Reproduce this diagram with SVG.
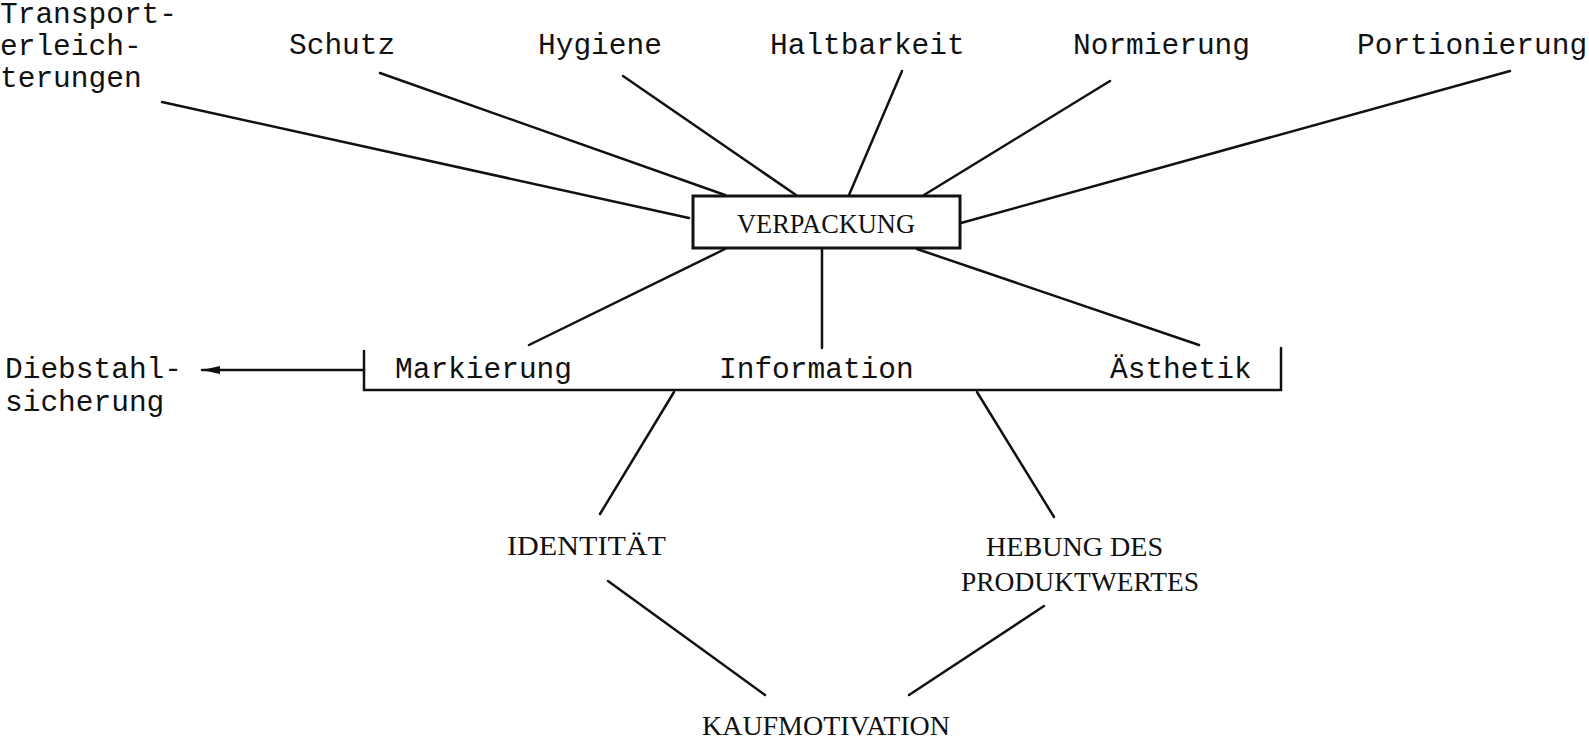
<svg xmlns="http://www.w3.org/2000/svg" width="1589" height="739" viewBox="0 0 1589 739">
<style>
.t{font-family:"Liberation Mono","DejaVu Sans Mono",monospace;font-size:29.5px;fill:#111}
.u{font-family:"Liberation Serif","DejaVu Serif",serif;font-size:28px;fill:#111}
.c line,.c path{stroke:#111;stroke-width:2.5;fill:none;stroke-linecap:round}
</style>
<defs>
<marker id="ah" viewBox="0 0 18 8" refX="18" refY="4" markerWidth="18" markerHeight="8" markerUnits="userSpaceOnUse" orient="auto">
<path d="M0,0 L18,4 L0,8 Z" style="fill:#111;stroke:none"/>
</marker>
</defs>
<rect width="1589" height="739" fill="#fff"/>
<g class="c" id="connectors">
<line x1="162" y1="102" x2="689" y2="218"/>
<line x1="380" y1="73" x2="725" y2="195"/>
<line x1="623" y1="76" x2="796" y2="195"/>
<line x1="902" y1="71" x2="849" y2="195"/>
<line x1="1110" y1="81" x2="924" y2="195"/>
<line x1="1510" y1="71" x2="961" y2="223"/>
<line x1="725" y1="249" x2="529" y2="345"/>
<line x1="822" y1="249" x2="822" y2="348"/>
<line x1="917" y1="249" x2="1199" y2="345"/>
<path d="M364,351 L364,390 L1281,390 L1281,348"/>
<line x1="364" y1="370" x2="202" y2="370" marker-end="url(#ah)"/>
<line x1="674" y1="392" x2="600" y2="514"/>
<line x1="977" y1="392" x2="1054" y2="517"/>
<line x1="608" y1="581" x2="765" y2="695"/>
<line x1="1044" y1="606" x2="909" y2="695"/>
</g>
<g id="transport"><text class="t" x="0" y="23">Transport-</text><text class="t" x="0" y="55">erleich-</text><text class="t" x="0" y="87">terungen</text></g>
<g id="schutz"><text class="t" x="289" y="54">Schutz</text></g>
<g id="hygiene"><text class="t" x="538" y="54">Hygiene</text></g>
<g id="haltbarkeit"><text class="t" x="770" y="54">Haltbarkeit</text></g>
<g id="normierung"><text class="t" x="1073" y="54">Normierung</text></g>
<g id="portionierung"><text class="t" x="1357" y="54">Portionierung</text></g>
<g id="verpackung"><rect x="693" y="196" width="267" height="52" fill="#fff" stroke="#111" stroke-width="3"/><text class="u" x="737" y="233" textLength="178" lengthAdjust="spacingAndGlyphs">VERPACKUNG</text></g>
<g id="markierung"><text class="t" x="395" y="378">Markierung</text></g>
<g id="information"><text class="t" x="719" y="378">Information</text></g>
<g id="aesthetik"><text class="t" x="1110" y="378">Ästhetik</text></g>
<g id="diebstahl"><text class="t" x="5" y="378">Diebstahl-</text><text class="t" x="5" y="411">sicherung</text></g>
<g id="identitaet"><text class="u" x="507" y="555" textLength="159" lengthAdjust="spacingAndGlyphs">IDENTITÄT</text></g>
<g id="hebung"><text class="u" x="986" y="556" textLength="177" lengthAdjust="spacingAndGlyphs">HEBUNG DES</text><text class="u" x="961" y="591" textLength="238" lengthAdjust="spacingAndGlyphs">PRODUKTWERTES</text></g>
<g id="kaufmotivation"><text class="u" x="702" y="735" textLength="248" lengthAdjust="spacingAndGlyphs">KAUFMOTIVATION</text></g>
</svg>
